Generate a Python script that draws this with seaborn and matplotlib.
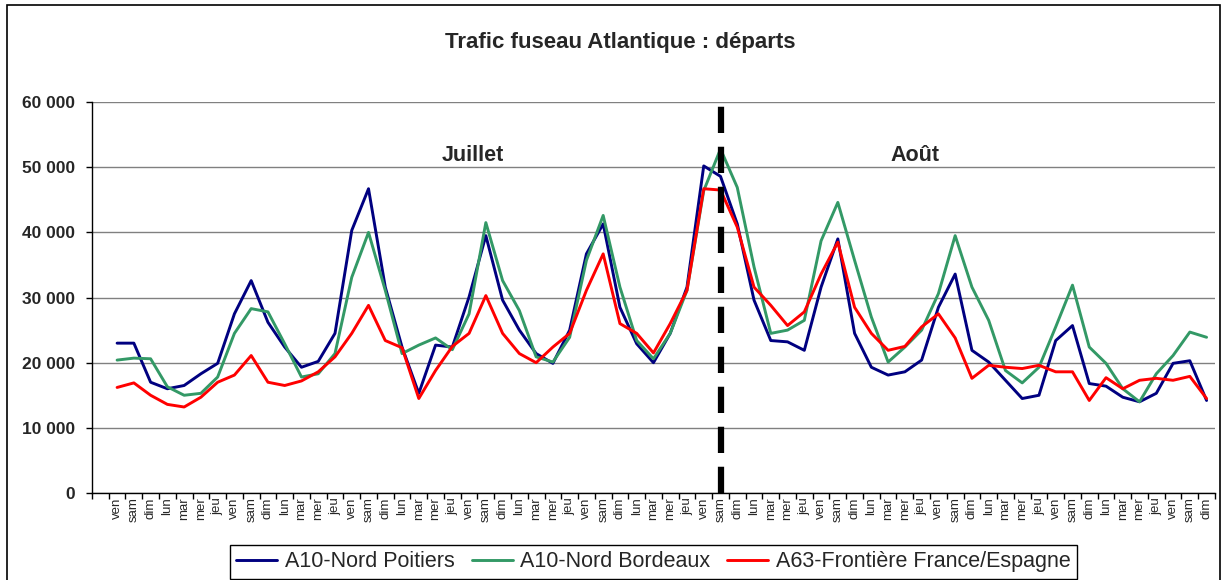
import matplotlib
matplotlib.use("Agg")
import matplotlib.pyplot as plt
import seaborn as sns
import pandas as pd
import numpy as np
from matplotlib.patches import Rectangle
from matplotlib.lines import Line2D

# jours (premier emplacement vide, comme dans le graphique Excel)
semaine = ["ven", "sam", "dim", "lun", "mar", "mer", "jeu"]
jours = [""] + (semaine * 10)[:66]

poitiers = [np.nan,
            23000, 23000, 17000, 16000, 16500, 18300, 19900, 27500, 32600, 26200,
            22400, 19300, 20200, 24500, 40300, 46700, 31600, 22400, 15300, 22700,
            22400, 30100, 39500, 29600, 25000, 21400, 19900, 25000, 36700, 41300,
            28500, 22900, 20000, 24500, 31600, 50200, 48600, 41300, 29600, 23400,
            23200, 21900, 31600, 39000, 24500, 19300, 18100, 18600, 20400, 28500,
            33600, 21900, 20100, 17300, 14500, 15000, 23400, 25700, 16800, 16400,
            14700, 14000, 15300, 19900, 20300, 14200]

bordeaux = [np.nan,
            20400, 20700, 20600, 16300, 15000, 15300, 17800, 24500, 28300, 27800,
            22900, 17800, 18300, 21400, 33100, 40000, 31100, 21400, 22700, 23800,
            22000, 27500, 41500, 32600, 28000, 20900, 20100, 23900, 35700, 42600,
            31600, 23400, 20600, 24500, 31100, 46400, 52800, 46900, 34700, 24500,
            25000, 26500, 38700, 44600, 35700, 27000, 20100, 22400, 25000, 30600,
            39500, 31600, 26500, 18800, 16900, 19300, 25500, 31900, 22400, 19900,
            16000, 14000, 18300, 21100, 24700, 23900]

espagne = [np.nan,
           16200, 16900, 15000, 13600, 13200, 14700, 17000, 18100, 21100, 17000,
           16500, 17200, 18600, 20900, 24500, 28800, 23400, 22300, 14500, 18800,
           22500, 24500, 30300, 24500, 21400, 20000, 22400, 24500, 31100, 36700,
           26000, 24500, 21500, 26000, 31100, 46700, 46500, 40800, 31600, 28800,
           25700, 27800, 33600, 38500, 28500, 24500, 21900, 22500, 25500, 27500,
           23800, 17600, 19600, 19300, 19100, 19600, 18600, 18600, 14200, 17700,
           16000, 17300, 17600, 17300, 17900, 14500]

series = ["A10-Nord Poitiers", "A10-Nord Bordeaux", "A63-Frontière France/Espagne"]
couleurs = ["#000080", "#339966", "#FF0000"]

df = pd.DataFrame({"x": np.arange(len(jours)),
                   series[0]: poitiers, series[1]: bordeaux, series[2]: espagne})
long = df.melt(id_vars="x", var_name="serie", value_name="trafic").dropna()

sns.set_style("white")
plt.rcParams["font.family"] = ["Liberation Sans", "DejaVu Sans"]

fig = plt.figure(figsize=(12.26, 5.8), dpi=100)
ax = fig.add_axes([0.075, 0.15, 0.916, 0.674])

sns.lineplot(data=long, x="x", y="trafic", hue="serie", hue_order=series,
             palette=couleurs, linewidth=2.1, ax=ax, legend=False, sort=True)
for ln in ax.lines:
    ln.set_solid_joinstyle("round")

ax.set_xlim(-0.5, len(jours) - 0.5)
ax.set_ylim(0, 60000)
ax.set_xlabel("")
ax.set_ylabel("")

yt = np.arange(0, 60001, 10000)
ax.set_yticks(yt)
ax.set_yticklabels([f"{v:,}".replace(",", " ") for v in yt], fontweight="bold", fontsize=12.5)
ax.yaxis.grid(True, color="#808080", linewidth=1)
ax.set_axisbelow(True)

ax.set_xticks(np.arange(len(jours) + 1) - 0.5)
ax.set_xticklabels([])
ax.set_xticks(np.arange(len(jours)), minor=True)
ax.set_xticklabels(jours, minor=True, rotation=90, fontsize=9.5)
ax.tick_params(axis="x", which="major", direction="out", length=4, width=1, color="black", bottom=True)
ax.tick_params(axis="x", which="minor", length=0, pad=3)
ax.tick_params(axis="y", direction="out", length=4, width=1, color="black", left=True, pad=8)

for s in ["top", "right"]:
    ax.spines[s].set_visible(False)
for s in ["left", "bottom"]:
    ax.spines[s].set_color("black")
    ax.spines[s].set_linewidth(1)

# séparation juillet / août
ax.axvline(37, color="black", linewidth=4.5, linestyle=(0, (4.2, 2.2)))
ax.text(22.2, 51800, "Juillet", ha="center", va="center", fontsize=15.5, fontweight="bold")
ax.text(48.6, 51800, "Août", ha="center", va="center", fontsize=15.5, fontweight="bold")

fig.text(0.506, 0.927, "Trafic fuseau Atlantique : départs", ha="center", va="center",
         fontsize=16, fontweight="bold")

handles = [Line2D([], [], color=c, linewidth=2.1) for c in couleurs]
leg = fig.legend(handles, series, loc="upper center", bbox_to_anchor=(0.533, 1 - 545 / 580), ncol=3,
                 frameon=True, fancybox=False, edgecolor="black", framealpha=1,
                 fontsize=15.5, handlelength=1.9, columnspacing=0.8, handletextpad=0.35,
                 borderpad=0.3, borderaxespad=0)
leg.get_frame().set_linewidth(1)

fig.patches.append(Rectangle((7 / 1226, -0.05), (1220 - 7) / 1226, 1 - 5 / 580 + 0.05,
                             transform=fig.transFigure, fill=False, edgecolor="black",
                             linewidth=1.2))

fig.savefig("out.png", dpi=100)
